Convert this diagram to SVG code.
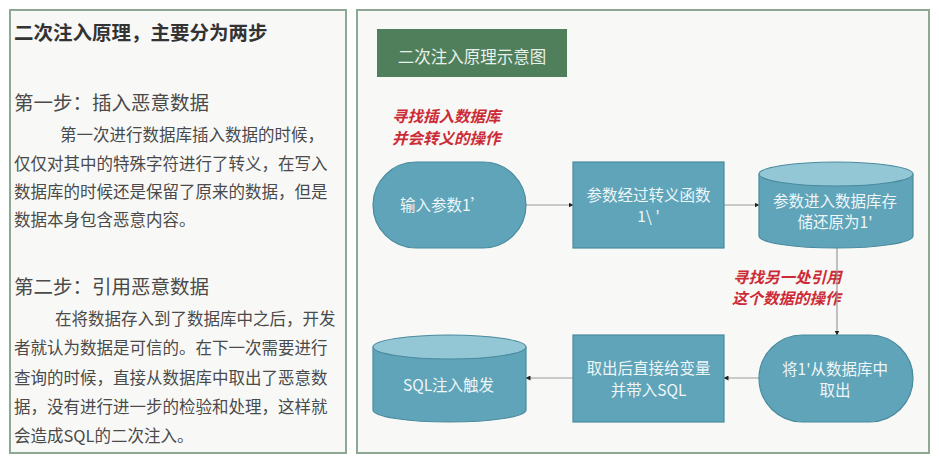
<svg xmlns="http://www.w3.org/2000/svg" width="939" height="464" viewBox="0 0 939 464">
<style>
.panel{fill:#f8f9f7;stroke:#8fa894;stroke-width:2}
.cjk{font-family:"Noto Sans CJK SC","Noto Sans",sans-serif}
.head{font-size:19.5px;fill:#4a4a4a}
.body{font-size:16.5px;fill:#4a4a4a}
.shape{fill:#5fa4b9;stroke:#4a8a9e;stroke-width:1.2}
.top{fill:#93c7d6;stroke:#4a8a9e;stroke-width:1.2}
.ntext{font-size:15.5px;fill:#eef6f8;text-anchor:middle}
.red{font-size:15.5px;fill:#cc2b36;font-weight:bold;font-style:italic}
.conn{stroke:#9a9a9a;stroke-width:1.2;fill:none;marker-end:url(#arr)}
</style>
<defs>
<marker id="arr" markerWidth="5" markerHeight="5" refX="4.5" refY="2.5" orient="auto" markerUnits="userSpaceOnUse">
<path d="M0,0 L5,2.5 L0,5 Z" fill="#222"/>
</marker>
</defs>
<rect width="939" height="464" fill="#ffffff"/>
<g id="left-panel">
<rect class="panel" x="10" y="10" width="336" height="443"/>
<text class="cjk" x="14" y="40" font-size="19.5" font-weight="bold" fill="#333">二次注入原理，主要分为两步</text>
<text class="cjk head" x="14" y="110">第一步：插入恶意数据</text>
<text class="cjk body" x="60" y="141">第一次进行数据库插入数据的时候，</text>
<text class="cjk body" x="14" y="170">仅仅对其中的特殊字符进行了转义，在写入</text>
<text class="cjk body" x="14" y="198">数据库的时候还是保留了原来的数据，但是</text>
<text class="cjk body" x="14" y="226">数据本身包含恶意内容。</text>
<text class="cjk head" x="14" y="294">第二步：引用恶意数据</text>
<text class="cjk body" x="55" y="325">在将数据存入到了数据库中之后，开发</text>
<text class="cjk body" x="14" y="354">者就认为数据是可信的。在下一次需要进行</text>
<text class="cjk body" x="14" y="384">查询的时候，直接从数据库中取出了恶意数</text>
<text class="cjk body" x="14" y="413">据，没有进行进一步的检验和处理，这样就</text>
<text class="cjk body" x="14" y="442">会造成SQL的二次注入。</text>
</g>
<g id="right-panel">
<rect class="panel" x="357" y="10" width="572" height="443"/>
</g>
<g id="title">
<rect x="377" y="29" width="190" height="48" fill="#4f7f5b"/>
<text class="cjk" x="472" y="63" font-size="16.5" fill="#e8f0ea" text-anchor="middle">二次注入原理示意图</text>
</g>
<g id="note1">
<text class="cjk red" x="392" y="122">寻找插入数据库</text>
<text class="cjk red" x="392" y="144">并会转义的操作</text>
</g>
<g id="note2">
<text class="cjk red" x="733" y="283">寻找另一处引用</text>
<text class="cjk red" x="732" y="304">这个数据的操作</text>
</g>
<g id="connectors">
<line class="conn" x1="526" y1="205" x2="573" y2="205"/>
<line class="conn" x1="724" y1="205" x2="759" y2="205"/>
<line class="conn" x1="837" y1="248" x2="837" y2="335"/>
<line class="conn" x1="759" y1="378" x2="724" y2="378"/>
<line class="conn" x1="573" y1="378" x2="526" y2="378"/>
</g>
<g id="n1">
<rect class="shape" x="373" y="162" width="153" height="86" rx="43" ry="43"/>
<text class="cjk ntext" x="443" y="211">输入参数1’</text>
</g>
<g id="n2">
<rect class="shape" x="573" y="162" width="151" height="86"/>
<text class="cjk ntext" x="648.5" y="201">参数经过转义函数</text>
<text class="cjk ntext" x="648.5" y="222">1\ '</text>
</g>
<g id="n3">
<path class="shape" d="M759,174 V236 A77,12 0 0 0 913,236 V174"/>
<ellipse class="top" cx="836" cy="174" rx="77" ry="12"/>
<text class="cjk ntext" x="835" y="207">参数进入数据库存</text>
<text class="cjk ntext" x="835" y="228">储还原为1'</text>
</g>
<g id="n4">
<rect class="shape" x="759" y="335" width="154" height="87" rx="43.5" ry="43.5"/>
<text class="cjk ntext" x="835" y="375">将1'从数据库中</text>
<text class="cjk ntext" x="835" y="396">取出</text>
</g>
<g id="n5">
<rect class="shape" x="573" y="335" width="151" height="87"/>
<text class="cjk ntext" x="648.5" y="374">取出后直接给变量</text>
<text class="cjk ntext" x="648.5" y="396">并带入SQL</text>
</g>
<g id="n6">
<path class="shape" d="M373,347 V410 A76.5,12 0 0 0 526,410 V347"/>
<ellipse class="top" cx="449.5" cy="347" rx="76.5" ry="12"/>
<text class="cjk ntext" x="448.5" y="391">SQL注入触发</text>
</g>
</svg>
